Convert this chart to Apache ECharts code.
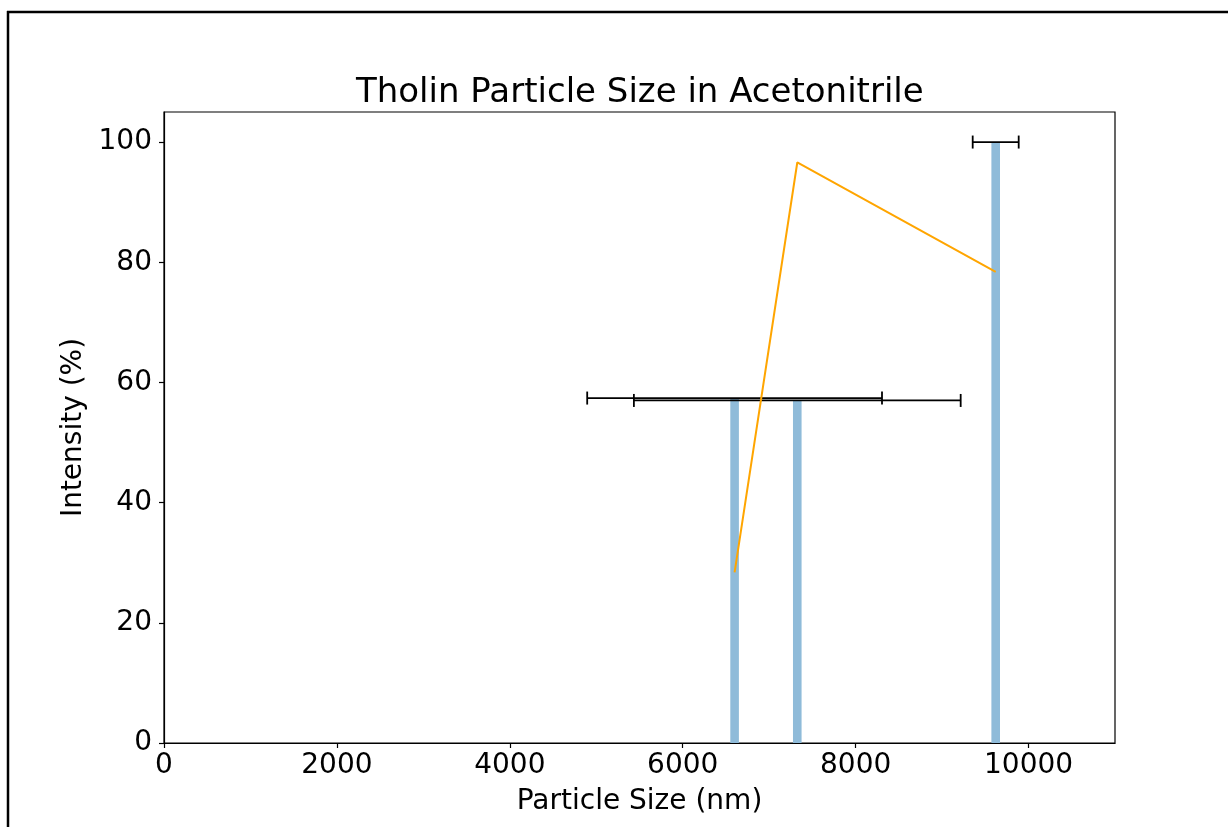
<!DOCTYPE html>
<html>
<head>
<meta charset="utf-8">
<script src="https://cdn.jsdelivr.net/npm/echarts@6/dist/echarts.min.js"></script>
<style>
html,body{margin:0;padding:0;background:#fff;}
#chart{width:1228px;height:827px;}
</style>
</head>
<body>
<div id="chart"></div>
<script>
// Data
const particleSizes = [6600, 7325, 9620];        // nm (bar positions)
const intensities   = [57.4, 57.0, 100];         // %
const sizeErrors    = [1705, 1890, 266];         // nm (horizontal error half-widths)
const lineSizes     = [6600, 7325, 9620];        // nm
const lineValues    = [28.4, 96.6, 78.4];        // %
const xTicks = [0, 2000, 4000, 6000, 8000, 10000];
const yTicks = [0, 20, 40, 60, 80, 100];

const FONT = 'DejaVu Sans';
const chart = echarts.init(document.getElementById('chart'), null, {renderer: 'canvas'});

const barData = particleSizes.map((x, i) => [x, intensities[i]]);
const errData = particleSizes.map((x, i) => [x, intensities[i], sizeErrors[i]]);
const lineData = lineSizes.map((x, i) => [x, lineValues[i]]);

chart.setOption({
  backgroundColor: '#fff',
  animation: false,
  title: {
    text: 'Tholin Particle Size in Acetonitrile',
    left: 351,
    top: 71,
    textStyle: {fontFamily: FONT, fontSize: 34, fontWeight: 'normal', color: '#000'}
  },
  grid: {left: 164, right: 113, top: 112, bottom: 84, show: true, borderColor: '#000', borderWidth: 1.2, backgroundColor: 'transparent'},
  xAxis: {
    type: 'value', min: 0, max: 11000, interval: 2000,
    name: 'Particle Size (nm)', nameLocation: 'middle', nameGap: 45,
    nameTextStyle: {fontFamily: FONT, fontSize: 28, color: '#000'},
    axisLine: {show: true, onZero: false, lineStyle: {color: '#000', width: 1.2}},
    axisTick: {show: true, inside: false, length: 5, lineStyle: {color: '#000', width: 1.2}},
    axisLabel: {fontFamily: FONT, fontSize: 28, color: '#000', margin: 9, showMaxLabel: false,
      formatter: v => xTicks.includes(v) ? String(v) : ''},
    splitLine: {show: false}
  },
  yAxis: {
    type: 'value', min: 0, max: 105, interval: 20,
    name: 'Intensity (%)', nameLocation: 'middle', nameGap: 76,
    nameTextStyle: {fontFamily: FONT, fontSize: 28, color: '#000'},
    axisLine: {show: true, onZero: false, lineStyle: {color: '#000', width: 1.2}},
    axisTick: {show: true, inside: false, length: 5, lineStyle: {color: '#000', width: 1.2}},
    axisLabel: {fontFamily: FONT, fontSize: 28, color: '#000', margin: 12, showMaxLabel: false,
      formatter: v => yTicks.includes(v) ? String(v) : ''},
    splitLine: {show: false}
  },
  series: [
    {
      type: 'bar',
      data: barData,
      barWidth: 8.6,
      itemStyle: {color: '#8fbbd9'},
      z: 2
    },
    {
      type: 'custom',
      data: errData,
      z: 3,
      renderItem: function (params, api) {
        const x = api.value(0), y = api.value(1), e = api.value(2);
        const p1 = api.coord([x - e, y]);
        const p2 = api.coord([x + e, y]);
        const style = {stroke: '#000', lineWidth: 1.8};
        const cap = 6.5;
        return {
          type: 'group',
          children: [
            {type: 'line', shape: {x1: p1[0], y1: p1[1], x2: p2[0], y2: p2[1]}, style: style},
            {type: 'line', shape: {x1: p1[0], y1: p1[1] - cap, x2: p1[0], y2: p1[1] + cap}, style: style},
            {type: 'line', shape: {x1: p2[0], y1: p2[1] - cap, x2: p2[0], y2: p2[1] + cap}, style: style}
          ]
        };
      }
    },
    {
      type: 'line',
      data: lineData,
      symbol: 'none',
      lineStyle: {color: '#ffa500', width: 2},
      z: 4
    }
  ],
  graphic: [
    {type: 'line', shape: {x1: 8, y1: 11, x2: 8, y2: 827}, style: {stroke: '#000', lineWidth: 2.5}, silent: true},
    {type: 'line', shape: {x1: 7, y1: 12, x2: 1228, y2: 12}, style: {stroke: '#000', lineWidth: 2.5}, silent: true}
  ]
});
</script>
</body>
</html>
